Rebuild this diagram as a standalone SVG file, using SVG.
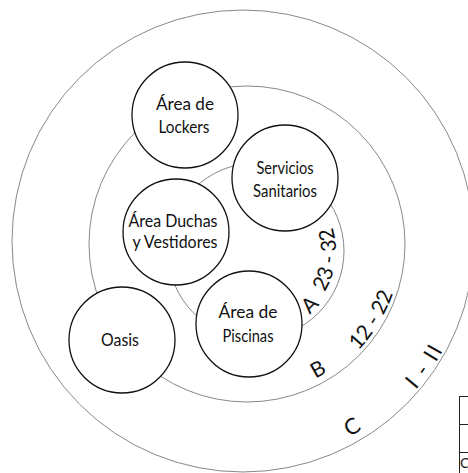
<svg xmlns="http://www.w3.org/2000/svg" xmlns:xlink="http://www.w3.org/1999/xlink" width="468" height="473" viewBox="0 0 468 473">
<style>
.ring{fill:none;stroke:#888;stroke-width:1}
.node{fill:#fff;stroke:#111;stroke-width:1.3}
.lbl{font-family:Lato,"Open Sans",sans-serif;font-weight:400;font-size:17px;fill:#111;text-anchor:middle}
.rl{font-family:Lato,"Open Sans",sans-serif;font-weight:400;font-size:21px;fill:#111;text-anchor:middle}
.rlc{font-family:Lato,"Open Sans",sans-serif;font-weight:400;font-size:22px;fill:#111;text-anchor:middle}
.tbl{fill:none;stroke:#222;stroke-width:1}
</style>
<defs>
<path id="pA1" d="M270.41,332.74 A83,83 0 0 0 270.41,169.26"/>
<path id="pA2" d="M269.89,329.78 A80,80 0 0 0 269.89,172.22"/>
<path id="pB1" d="M273.22,392.71 A151,151 0 0 0 322.5,113.23"/>
<path id="pB2" d="M273.74,395.66 A154,154 0 0 0 324,110.63"/>
<path id="pC1" d="M281.72,460.61 A223,223 0 0 0 466,241"/>
<path id="pC2" d="M282.59,465.54 A228,228 0 0 0 471,241"/>
</defs>
<rect width="468" height="473" fill="#fff"/>
<g id="rings">
<circle id="ringC" class="ring" cx="243" cy="241" r="231"/>
<circle id="ringB" class="ring" cx="247" cy="244" r="158"/>
<circle id="ringA" class="ring" cx="256" cy="251" r="88"/>
</g>
<g id="connectors"></g>
<g id="lockers">
<circle class="node" cx="185" cy="115" r="53"/>
<text class="lbl" x="185" y="110" textLength="58" lengthAdjust="spacingAndGlyphs">Área de</text>
<text class="lbl" x="184" y="133" textLength="51" lengthAdjust="spacingAndGlyphs">Lockers</text>
</g>
<g id="sanitarios">
<circle class="node" cx="285" cy="178" r="53"/>
<text class="lbl" x="285" y="174" textLength="57" lengthAdjust="spacingAndGlyphs">Servicios</text>
<text class="lbl" x="285" y="197" textLength="64" lengthAdjust="spacingAndGlyphs">Sanitarios</text>
</g>
<g id="duchas">
<circle class="node" cx="176" cy="232" r="53"/>
<text class="lbl" x="173" y="227" textLength="89" lengthAdjust="spacingAndGlyphs">Área Duchas</text>
<text class="lbl" x="175" y="248" textLength="85" lengthAdjust="spacingAndGlyphs">y Vestidores</text>
</g>
<g id="piscinas">
<circle class="node" cx="249" cy="324" r="53"/>
<text class="lbl" x="248" y="318" textLength="59" lengthAdjust="spacingAndGlyphs">Área de</text>
<text class="lbl" x="248" y="342" textLength="51" lengthAdjust="spacingAndGlyphs">Piscinas</text>
</g>
<g id="oasis">
<circle class="node" cx="122" cy="340" r="53"/>
<text class="lbl" x="120" y="346" textLength="38" lengthAdjust="spacingAndGlyphs">Oasis</text>
</g>
<g id="ring-labels">
<text class="rl"><textPath xlink:href="#pA1" startOffset="50.7">A</textPath></text>
<text class="rl"><textPath xlink:href="#pA2" startOffset="102">23 - 32</textPath></text>
<text class="rl"><textPath xlink:href="#pB1" startOffset="51.4">B</textPath></text>
<text class="rl"><textPath xlink:href="#pB2" startOffset="130.9">12 - 22</textPath></text>
<text class="rlc"><textPath xlink:href="#pC1" startOffset="79.4">C</textPath></text>
<text class="rlc" letter-spacing="2"><textPath xlink:href="#pC2" startOffset="181.1">I - II</textPath></text>
</g>
<g id="table">
<rect class="tbl" x="459.5" y="396.5" width="30" height="90"/>
<line class="tbl" x1="459.5" y1="424.5" x2="470" y2="424.5"/>
<line class="tbl" x1="459.5" y1="452.5" x2="470" y2="452.5"/>
<text x="460" y="468" style="font-family:Lato,sans-serif;font-size:14px;fill:#111">C</text>
</g>
</svg>
